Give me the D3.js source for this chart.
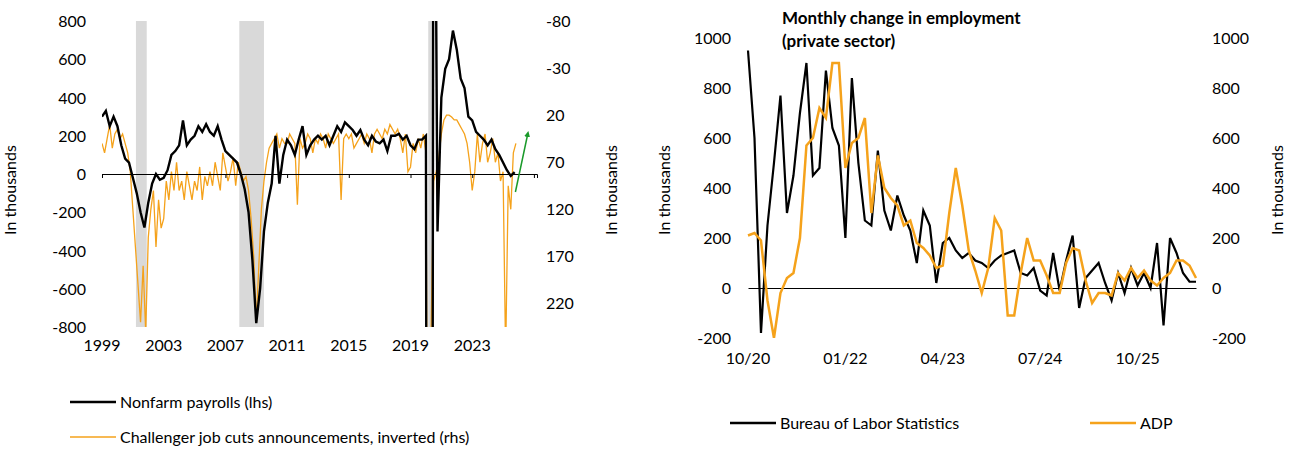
<!DOCTYPE html>
<html><head><meta charset="utf-8">
<script src="https://cdn.jsdelivr.net/npm/d3@7"></script>
<style>body{margin:0;background:#fff}svg{font-family:Lato,"Open Sans",sans-serif}</style>
</head><body><svg id="c" width="1305" height="455"></svg>
<script>
// left chart: quarterly payrolls from 1999Q1, bimonthly Challenger cuts from 1999
const nfp = [300,330,250,300, 250,150,80,60, -20,-100,-200,-280, -150,-50,0,-30, -20,20,100,120,
  150,280,150,180, 200,250,220,260, 220,200,250,180, 120,100,80,60, 0,-80,-200,-450,
  -780,-600,-300,-150, -50,200,-50,100, 180,150,100,180, 250,100,150,180, 200,180,200,150,
  200,250,220,270, 250,230,200,230, 180,150,200,170, 160,180,120,200, 200,210,180,200,
  150,130,180,180, 200,-13000,3000,-300, 400,550,600,750, 650,500,450,300, 280,220,200,180,
  150,180,130,100, 60,20,-10,10];
const cuts = [50,60,45,30,55,40, 35,45,40,50,60,80, 120,160,200,240,180,250, 150,120,100,160,110,140,
  130,90,110,80,100,70, 100,90,110,80,95,110, 90,100,75,110,85,95, 80,95,70,85,100,60,
  75,90,80,65,95,70, 80,90,85,100,130,170, 240,180,120,90,70,55, 50,45,40,55,45,50,
  50,40,45,50,115,45, 55,50,40,45,60,45, 50,40,45,55,40,45, 50,45,40,110,45,40,
  45,40,55,50,45,40, 50,40,45,60,40,35, 40,45,35,40,30,35, 40,35,45,60,40,80,
  75,50,60,45,55,40, 60,670,250,90,80,65, 40,25,20,20,22,25, 25,30,35,40,50,70,
  100,80,40,70,50,40, 70,60,45,70,60,90, 80,275,95,120,60,50];
const recessions = [[2001.2,2001.9],[2007.9,2009.5],[2020.15,2020.4]];
const yearTicks = [1999,2003,2007,2011,2015,2019,2023];
// right chart: monthly from 10/20
const bls = [950,600,-180,250,500,770,300,450,700,900,450,480,870,640,570,200,840,500,270,250,
  550,310,230,370,290,230,100,310,250,20,180,200,150,120,140,110,100,80,110,130,
  140,150,60,50,80,-10,-30,140,-10,110,210,-80,40,70,100,20,-50,60,-20,80,
  10,60,0,180,-150,200,140,60,25,25];
const adp = [210,220,190,-50,-200,-20,40,60,200,570,600,720,680,900,900,480,580,600,680,300,
  530,400,360,330,250,270,180,160,130,80,90,300,480,330,150,70,-20,80,280,230,
  -110,-110,60,200,110,110,50,-20,-20,100,160,150,30,-60,-20,-20,-30,60,30,80,
  40,70,30,10,40,60,110,110,90,40];
const monthTicks = ["10/20","01/22","04/23","07/24","10/25"];

const svg = d3.select("#c");
const orange = "#f5a21b";
const fs = "16px";

// ---------- left chart
const x1 = d3.scaleLinear().domain([1999, 2027.2]).range([102, 537]);
const y1 = d3.scaleLinear().domain([-800, 800]).range([327, 21]);
const y1r = d3.scaleLinear().domain([-80, 245]).range([21, 327]);
svg.append("clipPath").attr("id","cl").append("rect").attr("x",102).attr("y",21).attr("width",435).attr("height",306);
const g1 = svg.append("g");
g1.selectAll(".rec").data(recessions).join("rect")
  .attr("x", d => x1(d[0])).attr("width", d => x1(d[1]) - x1(d[0]))
  .attr("y", 21).attr("height", 306).attr("fill", "#d9d9d9");
g1.append("path").datum(cuts).attr("clip-path","url(#cl)")
  .attr("fill","none").attr("stroke",orange).attr("stroke-width",1.3)
  .attr("d", d3.line().x((d,i) => x1(1999 + i/6)).y(d => y1r(d)));
g1.append("path").datum(nfp).attr("clip-path","url(#cl)")
  .attr("fill","none").attr("stroke","#000").attr("stroke-width",2.4)
  .attr("d", d3.line().x((d,i) => x1(1999 + i/4)).y(d => y1(d)));
g1.append("g").attr("transform",`translate(0,${y1(0)})`)
  .call(d3.axisBottom(x1).tickValues(yearTicks.concat([2027])).tickSize(4).tickFormat(""))
  .call(a => a.select(".domain").attr("stroke","#000"));
g1.append("g").selectAll("text").data(yearTicks).join("text")
  .attr("x", d => x1(d)).attr("y", 351).attr("text-anchor","middle").attr("font-size",fs).text(d => d);
g1.append("g").selectAll("text").data(d3.range(-800, 801, 200)).join("text")
  .attr("x", 86).attr("y", d => y1(d) + 6).attr("text-anchor","end").attr("font-size",fs).text(d => d);
g1.append("g").selectAll("text").data(d3.range(-80, 221, 50)).join("text")
  .attr("x", 546).attr("y", d => y1r(d) + 6).attr("font-size",fs).text(d => d);
// green arrow
svg.append("defs").append("marker").attr("id","ar").attr("viewBox","0 0 10 10").attr("refX",5).attr("refY",5)
  .attr("markerWidth",4).attr("markerHeight",4).attr("orient","auto")
  .append("path").attr("d","M0,0L10,5L0,10z").attr("fill","#1a9a2a");
g1.append("line").attr("x1",x1(2025.8)).attr("y1",192).attr("x2",x1(2026.6)).attr("y2",134)
  .attr("stroke","#1a9a2a").attr("stroke-width",1.5).attr("marker-end","url(#ar)");

// ---------- right chart
const x2 = d3.scaleLinear().domain([0, 69]).range([748, 1196]);
const y2 = d3.scaleLinear().domain([-200, 1000]).range([338, 38]);
svg.append("clipPath").attr("id","cr").append("rect").attr("x",740).attr("y",38).attr("width",470).attr("height",300);
const g2 = svg.append("g");
g2.append("g").attr("transform",`translate(0,${y2(0)})`)
  .call(d3.axisBottom(x2).tickValues([0,15,30,45,60,69]).tickSize(0).tickFormat(""))
  .call(a => a.select(".domain").attr("stroke","#000"));
g2.append("path").datum(bls).attr("clip-path","url(#cr)")
  .attr("fill","none").attr("stroke","#000").attr("stroke-width",2.2)
  .attr("d", d3.line().x((d,i) => x2(i)).y(d => y2(d)));
g2.append("path").datum(adp).attr("clip-path","url(#cr)")
  .attr("fill","none").attr("stroke",orange).attr("stroke-width",2.5)
  .attr("d", d3.line().x((d,i) => x2(i)).y(d => y2(d)));
g2.append("g").selectAll("text").data(monthTicks).join("text")
  .attr("x", (d,i) => x2(i*15)).attr("y", 364).attr("text-anchor","middle").attr("font-size",fs).text(d => d);
g2.append("g").selectAll("text").data(d3.range(-200, 1001, 200)).join("text")
  .attr("x", 731).attr("y", d => y2(d) + 6).attr("text-anchor","end").attr("font-size",fs).text(d => d);
g2.append("g").selectAll("text").data(d3.range(-200, 1001, 200)).join("text")
  .attr("x", 1212).attr("y", d => y2(d) + 6).attr("font-size",fs).text(d => d);
g2.append("text").attr("x",782).attr("y",24).attr("font-size","17px").attr("font-weight","bold").text("Monthly change in employment");
g2.append("text").attr("x",782).attr("y",47).attr("font-size","17px").attr("font-weight","bold").text("(private sector)");

// axis titles
[[16,190],[617,190],[670,190],[1283,190]].forEach(([x,y]) =>
  svg.append("text").attr("transform",`translate(${x},${y}) rotate(-90)`).attr("text-anchor","middle")
    .attr("font-size",fs).text("In thousands"));

// legends
const leg = [
  {x:70,y:402,c:"#000",w:2.5,t:"Nonfarm payrolls (lhs)"},
  {x:70,y:437,c:orange,w:1.5,t:"Challenger job cuts announcements, inverted (rhs)"},
  {x:730,y:423,c:"#000",w:2.5,t:"Bureau of Labor Statistics"},
  {x:1090,y:423,c:orange,w:2.5,t:"ADP"}];
leg.forEach(l => {
  svg.append("line").attr("x1",l.x).attr("x2",l.x+46).attr("y1",l.y).attr("y2",l.y).attr("stroke",l.c).attr("stroke-width",l.w);
  svg.append("text").attr("x",l.x+50).attr("y",l.y+6).attr("font-size",fs).text(l.t);
});
</script></body></html>
